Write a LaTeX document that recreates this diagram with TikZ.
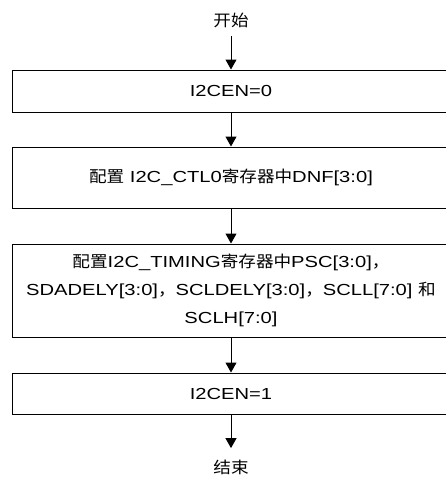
\documentclass[tikz,border=0pt]{standalone}
\usepackage{fontspec}
\setmainfont[FakeStretch=1.26]{Liberation Sans}
\newfontfamily\cjk[FakeStretch=1.1]{Noto Sans CJK SC}
\usetikzlibrary{arrows.meta}

\begin{document}
\begin{tikzpicture}[x=1pt, y=-1pt,
  box/.style={draw, line width=1pt, minimum width=438pt, inner sep=0pt, align=center},
  arr/.style={draw, line width=1pt, -{Triangle[width=11pt,length=10pt]}},
  every node/.style={font=\fontsize{16}{28}\selectfont}]

  \useasboundingbox (0,0) rectangle (445,479);

  % --- Etapes ---
  \node (start) at (231,20) {\cjk 开始};
  \node[box, minimum height=42pt] (en0) at (231,91) {I2CEN=0};
  \node[box, minimum height=61pt] (ctl) at (231,177.5)
    {{\cjk 配置} I2C\_CTL0{\cjk 寄存器中}DNF[3:0]};
  \node[box, minimum height=93pt] (timing) at (231,290.5)
    {{\cjk 配置}I2C\_TIMING{\cjk 寄存器中}PSC[3:0]{\cjk ，}\\
     SDADELY[3:0]{\cjk ，}SCLDELY[3:0]{\cjk ，}SCLL[7:0] {\cjk 和}\\
     SCLH[7:0]};
  \node[box, minimum height=41pt] (en1) at (231,393.5) {I2CEN=1};
  \node (stop) at (231,467) {\cjk 结束};

  % --- Fleches ---
  \draw[arr, shorten <=5pt] (start) -- (en0);
  \draw[arr] (en0) -- (ctl);
  \draw[arr] (ctl) -- (timing);
  \draw[arr] (timing) -- (en1);
  \draw[arr, shorten >=8pt] (en1) -- (stop);

\end{tikzpicture}
\end{document}
